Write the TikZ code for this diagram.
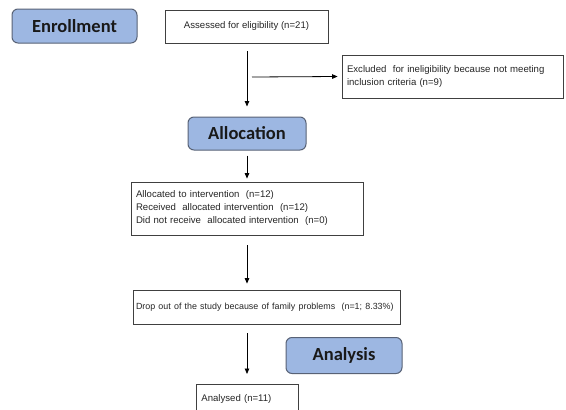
\documentclass[tikz,border=0pt]{standalone}
\usepackage{fontspec}
\setmainfont{Liberation Sans}
\newfontfamily\headfont{Carlito}
\usetikzlibrary{arrows.meta,calc}
\definecolor{headfill}{RGB}{157,183,226}
\definecolor{headdraw}{RGB}{88,98,118}
\begin{document}
\begin{tikzpicture}[x=1pt,y=-1pt,
  headbox/.style={draw=headdraw,fill=headfill,line width=1pt,rounded corners=6pt,
    font=\headfont\bfseries\fontsize{18.5}{22}\selectfont,text=black!90,inner sep=0pt},
  infobox/.style={draw=black!75,line width=0.8pt,inner sep=0pt,
    font=\fontsize{9.6}{13}\selectfont,text=black!85},
  arr/.style={line width=0.8pt,draw=black,-{Triangle[width=4.5pt,length=5.5pt]}}]
\clip (0,0) rectangle (566,410);
\fill[white] (0,0) rectangle (566,410);
% header boxes
\node[headbox,minimum width=125pt,minimum height=34pt] (enroll) at (74.5,26) {Enrollment};
\node[headbox,minimum width=118pt,minimum height=33pt] (alloc) at (247,133.5) {Allocation};
\node[headbox,minimum width=116pt,minimum height=36pt] (analysis) at (344,355.5) {Analysis};
% info boxes
\node[infobox,minimum width=163pt,minimum height=33pt] (assessed) at (246.5,26.5) {Assessed for eligibility (n=21)};
\node[infobox,minimum width=221pt,minimum height=43pt,text width=211pt,align=left] (excluded) at (452.5,76.5)
  {Excluded\ \ for ineligibility because not meeting\\inclusion criteria (n=9)};
\node[infobox,minimum width=232pt,minimum height=53pt,text width=222pt,align=left] (allocated) at (247,208.5)
  {Allocated to intervention\ \ (n=12)\\Received\ \ allocated intervention\ \ (n=12)\\Did not receive\ \ allocated intervention\ \ (n=0)};
\node[infobox,minimum width=267pt,minimum height=34pt,text width=261pt,align=left] (drop) at (266.5,307)
  {\mbox{\fontsize{8.9}{13}\selectfont Drop out of the study because of family problems\ \ (n=1; 8.33\%)}};
\node[infobox,minimum width=102pt,minimum height=40pt,text width=92pt,align=left,anchor=north west] (analysed) at (196,384)
  {\raisebox{12pt}{Analysed (n=11)}};
% connectors
\coordinate (branch) at (252,77);
\draw[arr] ([xshift=0.5pt,yshift=-8pt]assessed.south) -- ([yshift=10pt]alloc.north);
\draw[arr] (branch) -- ([xshift=-4pt]excluded.west);
\draw[arr] ([yshift=-5pt]alloc.south) -- ([yshift=3pt]allocated.north);
\draw[arr] ([yshift=-10pt]allocated.south) -- ([yshift=6pt]allocated.south |- drop.north);
\draw[arr] ([yshift=-9pt]allocated.south |- drop.south) -- ([yshift=10pt]allocated.south |- analysed.north);
\end{tikzpicture}
\end{document}
